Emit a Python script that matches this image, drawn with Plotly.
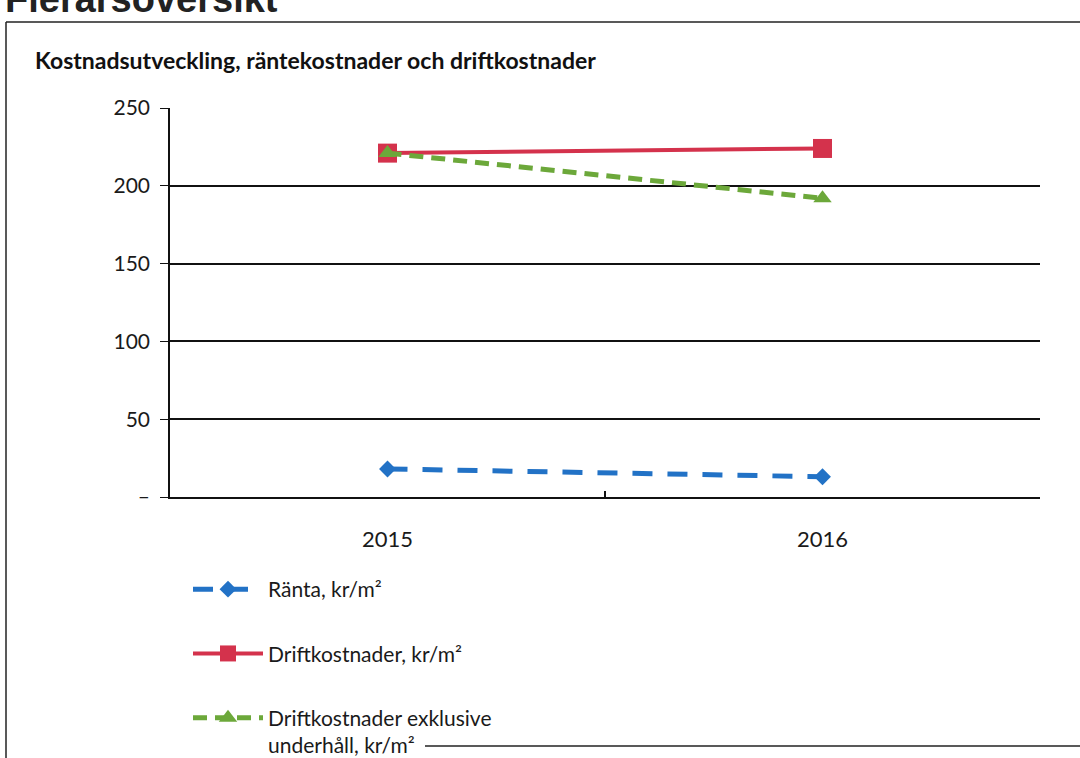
import plotly.graph_objects as go

years = ["2015", "2016"]
ranta = [18, 13]
drift = [221, 224]
drift_exkl = [221, 192]

ytick_vals = [0, 50, 100, 150, 200, 250]
ytick_text = ["–", "50", "100", "150", "200", "250"]

names = ["Ränta, kr/m²", "Driftkostnader, kr/m²", "Driftkostnader exklusive<br>underhåll, kr/m²"]

BLUE = "#2272C6"
RED = "#D4324C"
GREEN = "#6CA83A"
FONT = "Lato, 'Open Sans', sans-serif"

W, H = 1080, 758
L, R, T, B = 170, 40, 108, 261
pw, ph = W - L - R, H - T - B


def px(x):
    return (x - L) / pw


def py(y):
    return (H - B - y) / ph


fig = go.Figure()
fig.add_trace(go.Scatter(
    x=years, y=ranta, name=names[0], mode="lines+markers", legendgroup="a",
    line=dict(color=BLUE, width=5, dash="20px,15px"),
    marker=dict(symbol="diamond", size=13, color=BLUE),
))
fig.add_trace(go.Scatter(
    x=years, y=drift, name=names[1], mode="lines+markers", legendgroup="b",
    line=dict(color=RED, width=4),
    marker=dict(symbol="square", size=19, color=RED),
))
fig.add_trace(go.Scatter(
    x=years, y=drift_exkl, name=names[2], mode="lines+markers", legendgroup="c",
    line=dict(color=GREEN, width=5, dash="14px,8px"),
    marker=dict(symbol="triangle-up", size=16, color=GREEN),
))

fig.update_layout(
    width=W, height=H,
    margin=dict(l=L, r=R, t=T, b=B, autoexpand=False),
    paper_bgcolor="white", plot_bgcolor="white",
    font=dict(family=FONT, size=21, color="#1a1a1a"),
    showlegend=True,
    legend=dict(
        x=px(188), y=py(569), xanchor="left", yanchor="top",
        orientation="v", tracegroupgap=34, itemwidth=70, valign="top",
        font=dict(family=FONT, size=21, color="#1a1a1a"),
        bgcolor="rgba(0,0,0,0)",
    ),
    xaxis=dict(
        type="category", categoryorder="array", categoryarray=years,
        range=[-0.5, 1.5], showgrid=False,
        showline=True, linecolor="#111", linewidth=1.6,
        ticks="inside", tickson="boundaries", ticklen=6, tickcolor="#111", tickwidth=1.5,
        ticklabelstandoff=22,
        tickfont=dict(family=FONT, size=22, color="#1a1a1a"),
    ),
    yaxis=dict(
        range=[0, 250], tickvals=ytick_vals, ticktext=ytick_text,
        showgrid=True, gridcolor="#111", gridwidth=1.5,
        zeroline=False,
        showline=True, linecolor="#111", linewidth=1.6,
        ticks="outside", ticklen=8, tickcolor="#111", tickwidth=1.4,
        ticklabelstandoff=6,
        tickfont=dict(family=FONT, size=21, color="#1a1a1a"),
    ),
)

# Page header (cut off at top, as in the scanned page) and chart title
fig.add_annotation(
    text="<b>Flerårsöversikt</b>", xref="paper", yref="paper",
    x=px(3), y=py(22), xanchor="left", yanchor="bottom", showarrow=False,
    font=dict(family="Liberation Sans, Arial, sans-serif", size=38, color="#222"),
)
fig.add_annotation(
    text="<b>Kostnadsutveckling, räntekostnader och driftkostnader</b>",
    xref="paper", yref="paper", x=px(33), y=py(60), xanchor="left", yanchor="middle",
    showarrow=False, font=dict(family=FONT, size=23, color="#111"),
)

# Outer chart frame
frame = dict(color="#222", width=1.5)
fig.add_shape(type="line", xref="paper", yref="paper", x0=px(6), x1=px(1085), y0=py(22), y1=py(22), line=frame)
fig.add_shape(type="line", xref="paper", yref="paper", x0=px(6), x1=px(6), y0=py(22), y1=py(765), line=frame)
fig.add_shape(type="line", xref="paper", yref="paper", x0=px(425), x1=px(1085), y0=py(746), y1=py(746), line=frame)

fig.write_html("out.html")
